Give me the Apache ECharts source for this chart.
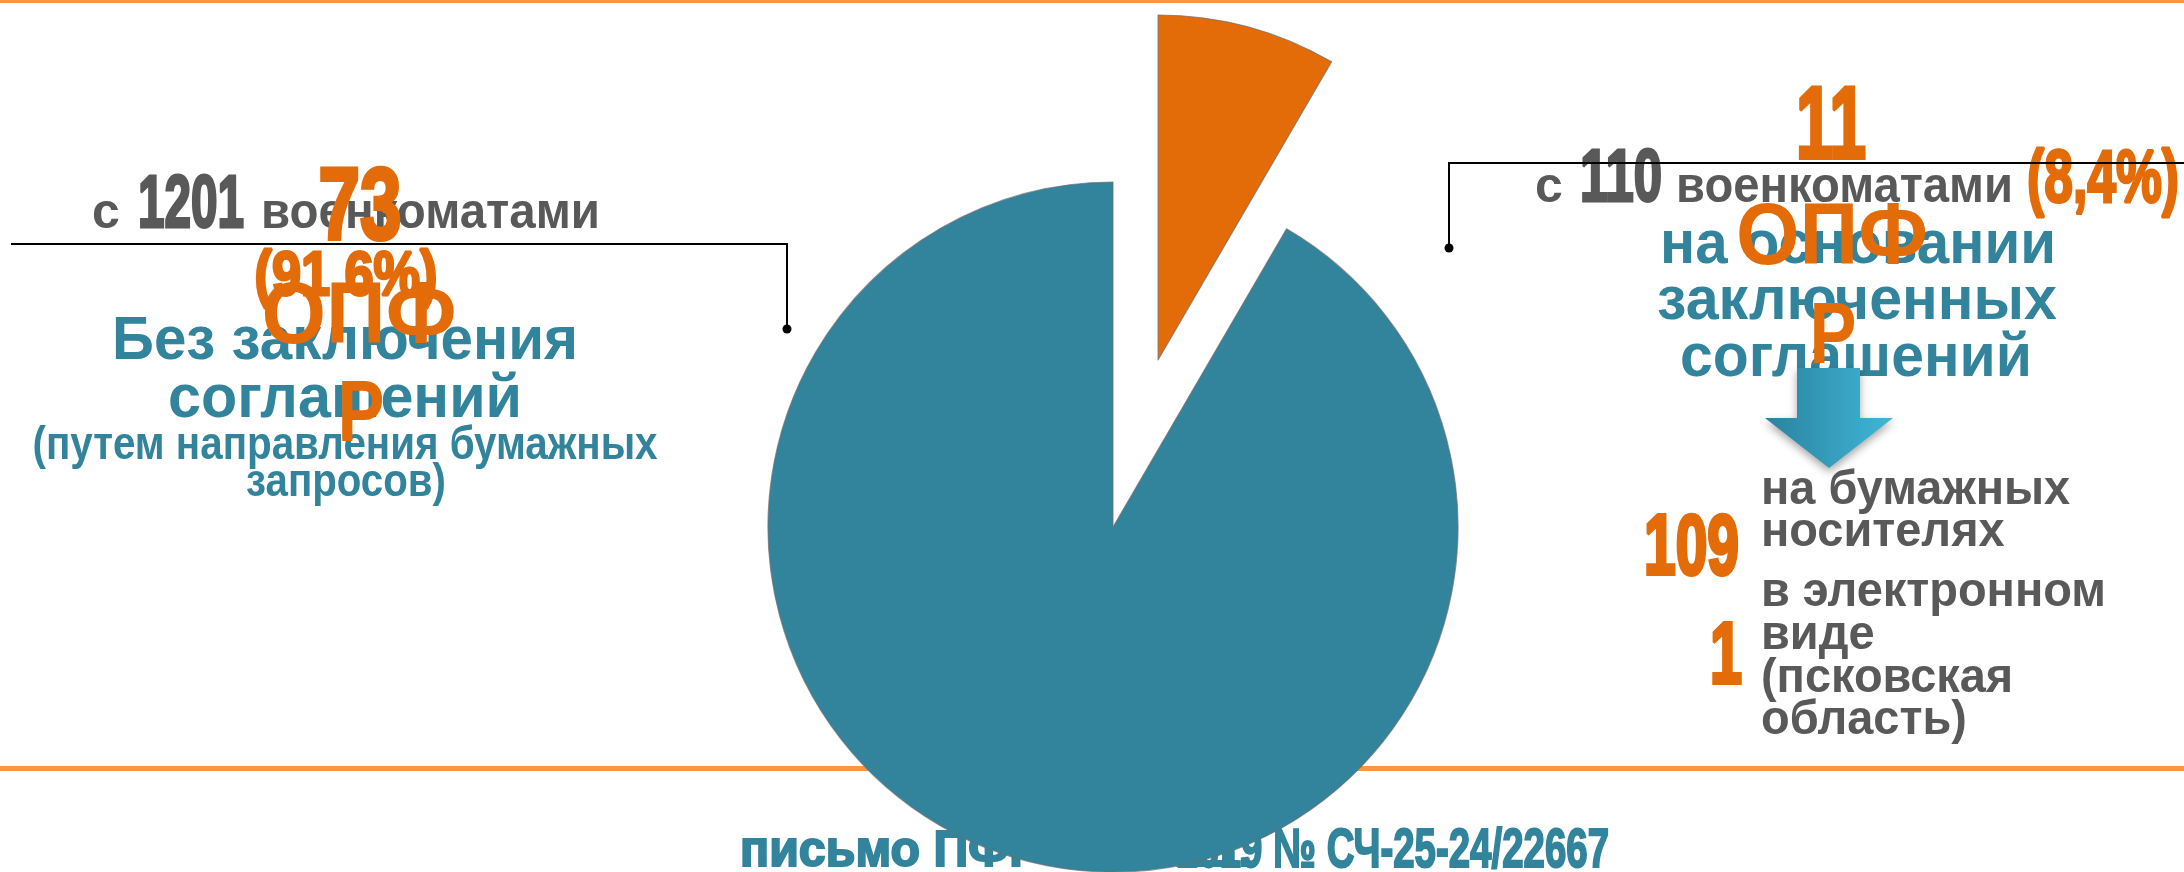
<!DOCTYPE html>
<html><head><meta charset="utf-8">
<script src="https://cdn.jsdelivr.net/npm/echarts@6/dist/echarts.min.js"></script>
<style>html,body{margin:0;padding:0;background:#fff}#chart{width:2184px;height:872px}</style>
</head><body><div id="chart"></div>
<script>
// ---- data ----
const categories = ['на основании заключенных соглашений', 'Без заключения соглашений'];
const categoryLines = [['на основании', 'заключенных', 'соглашений'], ['Без заключения', 'соглашений']];
const voenkomaty = [110, 1201];
const opfrCounts = [11, 73];
const opfrWord = ['ОПФ', 'Р'];
const connectWord = ['с', 'военкоматами'];
const leftNote = ['(путем направления бумажных', 'запросов)'];
const mediaCounts = [109, 1];
const mediaLines = [['на бумажных', 'носителях'], ['в электронном', 'виде', '(псковская', 'область)']];
const sourceNote = ['письмо ПФР от 12.11.', '2019 № СЧ-25-24/22667'];

const ORANGE = '#E36C09', TEAL = '#31849B', GRAY = '#595959', LINE_OR = '#F79646';
const total = voenkomaty.reduce((a, b) => a + b, 0);
const pct = voenkomaty.map(v => (v / total * 100).toFixed(1).replace('.', ','));

const ctx = document.createElement('canvas').getContext('2d');
function fontStr(fs, w) { return (w || 'bold') + ' ' + fs + 'px "Liberation Sans", Arial, sans-serif'; }
function measure(t, f) { ctx.font = f; return ctx.measureText(t).width; }
const K = 0.30;
function T(text, o) {
  const f = fontStr(o.fs, o.weight);
  let sx = o.sx || 1;
  if (o.w) sx = o.w / measure(text, f);
  const style = { text: text, font: f, fill: o.color, textAlign: o.align || 'left', textVerticalAlign: 'middle', x: 0, y: 0 };
  if (o.heavy) { style.stroke = o.color; style.lineWidth = o.heavy; style.lineJoin = 'round'; }
  return { type: 'text', x: o.x, y: o.base - K * o.fs, scaleX: sx, silent: true, z: o.z || 10, style: style };
}

const els = [];
// orange rules
els.push({ type: 'rect', z: 1, shape: { x: 0, y: 0, width: 2184, height: 3 }, style: { fill: LINE_OR }, silent: true });
els.push({ type: 'rect', z: 1, shape: { x: 0, y: 766, width: 2184, height: 5 }, style: { fill: LINE_OR }, silent: true });
// source note (under the pie)
const noteFont = fontStr(50);
const noteSx = 180 / measure('письмо', noteFont);
els.push(T(sourceNote[0], { x: 740, base: 867, fs: 50, sx: noteSx, color: TEAL, z: 1, heavy: 2 }));
els.push(T(sourceNote[1], { x: 1177, base: 868, fs: 55, w: 432, color: TEAL, z: 1, heavy: 2 }));

// ---- left group ----
els.push(T(categoryLines[1][0], { x: 345, base: 360, fs: 61, w: 466, color: TEAL, align: 'center' }));
els.push(T(categoryLines[1][1], { x: 345, base: 418, fs: 61, w: 354, color: TEAL, align: 'center' }));
els.push(T(leftNote[0], { x: 345, base: 460, fs: 46, w: 625, color: TEAL, align: 'center' }));
els.push(T(leftNote[1], { x: 346, base: 497, fs: 46, w: 200, color: TEAL, align: 'center' }));
els.push(T(connectWord[0], { x: 92, base: 229, fs: 50, color: GRAY }));
els.push(T(String(voenkomaty[1]), { x: 138, base: 229, fs: 75, w: 106, color: GRAY, heavy: 3 }));
els.push(T(connectWord[1], { x: 261, base: 229, fs: 50, w: 339, color: GRAY }));
els.push(T(String(opfrCounts[1]), { x: 360, base: 241, fs: 102, w: 83, color: ORANGE, align: 'center', heavy: 4 }));
els.push(T('(' + pct[1] + '%)', { x: 346, base: 297, fs: 63, w: 183, color: ORANGE, align: 'center', heavy: 3 }));
els.push(T(opfrWord[0], { x: 359, base: 345, fs: 87, w: 195, color: ORANGE, align: 'center' }));
els.push(T(opfrWord[1], { x: 361, base: 443, fs: 87, w: 47, color: ORANGE, align: 'center' }));
els.push({ type: 'polyline', z: 12, silent: true, shape: { points: [[11, 244], [787, 244], [787, 329]] }, style: { stroke: '#000', lineWidth: 2, fill: null } });
els.push({ type: 'circle', z: 12, silent: true, shape: { cx: 787, cy: 329, r: 4.5 }, style: { fill: '#000' } });

// ---- right group ----
els.push(T(categoryLines[0][0], { x: 1858, base: 264, fs: 61, w: 396, color: TEAL, align: 'center' }));
els.push(T(categoryLines[0][1], { x: 1857, base: 320, fs: 61, w: 400, color: TEAL, align: 'center' }));
els.push(T(categoryLines[0][2], { x: 1856, base: 377, fs: 61, w: 352, color: TEAL, align: 'center' }));
els.push(T(connectWord[0], { x: 1535, base: 203, fs: 50, color: GRAY }));
els.push(T(String(voenkomaty[0]), { x: 1580, base: 203, fs: 74, w: 82, color: GRAY, heavy: 3 }));
els.push(T(connectWord[1], { x: 1676, base: 203, fs: 50, w: 337, color: GRAY }));
els.push(T('(' + pct[0] + '%)', { x: 2027, base: 204, fs: 74, w: 152, color: ORANGE, heavy: 3 }));
els.push(T(String(opfrCounts[0]), { x: 1831, base: 160, fs: 102, w: 70, color: ORANGE, align: 'center', heavy: 4 }));
els.push(T(opfrWord[0], { x: 1832, base: 266, fs: 88, w: 192, color: ORANGE, align: 'center' }));
els.push(T(opfrWord[1], { x: 1833, base: 365, fs: 88, w: 47, color: ORANGE, align: 'center' }));
els.push({ type: 'polyline', z: 12, silent: true, shape: { points: [[2184, 163], [1449, 163], [1449, 248]] }, style: { stroke: '#000', lineWidth: 2, fill: null } });
els.push({ type: 'circle', z: 12, silent: true, shape: { cx: 1449, cy: 248, r: 4.5 }, style: { fill: '#000' } });
// arrow
els.push({
  type: 'polygon', z: 13, silent: true,
  shape: { points: [[1797, 368], [1860, 368], [1860, 418], [1893, 418], [1829, 468], [1765, 418], [1797, 418]] },
  style: {
    fill: new echarts.graphic.LinearGradient(0, 0, 1, 0, [{ offset: 0, color: '#2A82A0' }, { offset: 1, color: '#40B6D8' }]),
    shadowBlur: 8, shadowColor: 'rgba(0,0,0,0.35)', shadowOffsetY: 4
  }
});
// media breakdown
const mediaBases = [[505, 547], [607, 650, 693, 735]];
const mediaNumBase = [576, 685];
const mediaFont = fontStr(48);
const mediaSx = 345 / measure(mediaLines[1][0], mediaFont);
mediaLines.forEach((lines, i) => {
  lines.forEach((ln, j) => {
    els.push(T(ln, { x: 1761, base: mediaBases[i][j], fs: 48, sx: mediaSx, color: GRAY }));
  });
});
const numFont = fontStr(86);
const numSx = 95 / measure(String(mediaCounts[0]), numFont);
els.push(T(String(mediaCounts[0]), { x: 1739, base: mediaNumBase[0], fs: 86, sx: numSx, color: ORANGE, align: 'right', heavy: 4 }));
els.push(T(String(mediaCounts[1]), { x: 1742, base: mediaNumBase[1], fs: 87, sx: numSx, color: ORANGE, align: 'right', heavy: 4 }));

const chart = echarts.init(document.getElementById('chart'));
chart.setOption({
  animation: false,
  backgroundColor: '#fff',
  graphic: { elements: els },
  series: [{
    type: 'pie',
    z: 5,
    center: [1113, 527],
    radius: 345,
    startAngle: 90,
    clockwise: true,
    selectedMode: 'single',
    selectedOffset: 173,
    silent: true,
    label: { show: false },
    labelLine: { show: false },
    emphasis: { disabled: true },
    itemStyle: { borderColor: 'rgba(110,110,110,0.7)', borderWidth: 1.2 },
    data: categories.map((c, i) => ({
      name: c, value: voenkomaty[i], selected: i === 0,
      itemStyle: { color: i === 0 ? ORANGE : TEAL }
    }))
  }]
});
</script>
</body></html>
